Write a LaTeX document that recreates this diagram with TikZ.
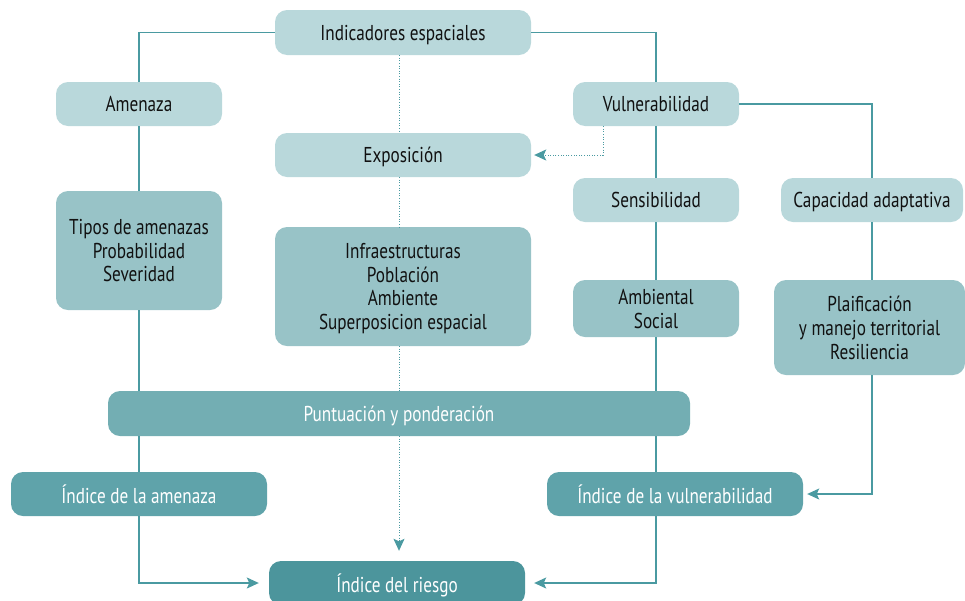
\documentclass[tikz,border=0pt]{standalone}
\usepackage{fontspec}
\setmainfont[FakeStretch=0.8]{PT Sans}
\usetikzlibrary{arrows.meta}
\definecolor{lightbox}{HTML}{B9D8DB}
\definecolor{midbox}{HTML}{98C3C7}
\definecolor{puntbox}{HTML}{73AEB3}
\definecolor{idxbox}{HTML}{5FA3AA}
\definecolor{riebox}{HTML}{4C959C}
\definecolor{linec}{HTML}{4A9AA1}
\definecolor{txt}{HTML}{111111}
\begin{document}
\begin{tikzpicture}[x=1pt,y=-1pt,
  box/.style={rounded corners=12pt, inner sep=2pt, align=center, text depth=0pt, font=\fontsize{21.5}{23.8}\selectfont},
  lbox/.style={box, fill=lightbox, text=txt},
  mbox/.style={box, fill=midbox, text=txt},
  pbox/.style={box, fill=puntbox, text=white},
  ibox/.style={box, fill=idxbox, text=white},
  rbox/.style={box, fill=riebox, text=white},
  conn/.style={draw=linec, line width=1.2pt},
  dotc/.style={draw=linec, line width=1pt, dash pattern=on 1pt off 1.6pt},
  arr/.style={-{Stealth[length=12pt,width=11pt,inset=2.5pt]}, color=linec}
]
\useasboundingbox (0,0) rectangle (965,600);

\node[lbox, minimum width=256, minimum height=45] (ind) at (403,32.5) {Indicadores espaciales};
\node[lbox, minimum width=166, minimum height=44] (ame) at (139,104) {Amenaza};
\node[lbox, minimum width=166, minimum height=44] (vul) at (656,104) {Vulnerabilidad};
\node[lbox, minimum width=256, minimum height=44] (exp) at (403,155) {Exposición};
\node[lbox, minimum width=166, minimum height=44] (sen) at (656,200) {Sensibilidad};
\node[lbox, minimum width=182, minimum height=44] (cap) at (872,200) {Capacidad adaptativa};
\node[mbox, minimum width=166, minimum height=119] (tip) at (139,250.5) {Tipos de amenazas\\Probabilidad\\Severidad};
\node[mbox, minimum width=256, minimum height=119] (inf) at (403,286.5) {Infraestructuras\\Población\\Ambiente\\Superposicion espacial};
\node[mbox, minimum width=166, minimum height=57] (amb) at (656,308.5) {Ambiental\\Social};
\node[mbox, minimum width=191, minimum height=95] (pla) at (869.5,327.5) {Plaificación\\y manejo territorial\\Resiliencia};
\node[pbox, minimum width=582, minimum height=45] (pun) at (399,413.5) {Puntuación y ponderación};
\node[ibox, minimum width=256, minimum height=44] (iam) at (139,494) {Índice de la amenaza};
\node[ibox, minimum width=256, minimum height=44] (ivu) at (675,494) {Índice de la vulnerabilidad};
\node[rbox, minimum width=256, minimum height=44] (rie) at (397,583) {Índice del riesgo};

% solid connectors
\draw[conn] (ind.west) -| (ame.north);
\draw[conn] (ind.east) -| (vul.north);
\draw[conn] (ame.south) -- (tip.north);
\draw[conn] (tip.south) -- (tip.south |- pun.north);
\draw[conn] (tip.south |- pun.south) -- (iam.north);
\draw[conn, arr, shorten >=10pt] (iam.south) |- (rie.west);

\draw[conn] (vul.south) -- (sen.north);
\draw[conn] (sen.south) -- (amb.north);
\draw[conn] (amb.south) -- (amb.south |- pun.north);
\draw[conn] (vul.south |- pun.south) -- (vul.south |- ivu.north);
\draw[conn, arr, shorten >=9pt] (vul.south |- ivu.south) |- (rie.east);

\draw[conn] (vul.east) -| (cap.north);
\draw[conn] (cap.south) -- (cap.south |- pla.north);
\draw[conn, arr, shorten >=4pt] (cap.south |- pla.south) |- (ivu.east);

% dotted connectors
\draw[dotc] (ind.south -| pun.north) -- (exp.north -| pun.north);
\draw[dotc] (exp.south -| pun.north) -- (inf.north -| pun.north);
\draw[dotc] (inf.south -| pun.north) -- (pun.north);
\draw[dotc, arr, shorten >=10pt] (pun.south) -- (pun.south |- rie.north);
\draw[dotc, arr, shorten >=3pt] ([xshift=-53pt]vul.south) |- (exp.east);
\end{tikzpicture}
\end{document}
